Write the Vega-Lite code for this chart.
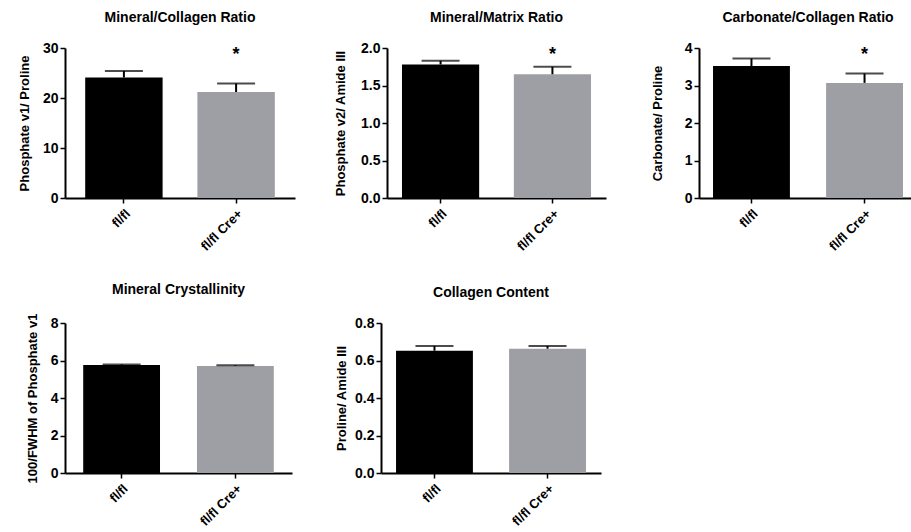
{
  "$schema": "https://vega.github.io/schema/vega-lite/v6.json",
  "background": "white",
  "padding": {"left": 18, "top": 11, "right": 0, "bottom": 0},
  "config": {
    "font": "Liberation Sans",
    "view": {"stroke": null},
    "title": {"fontSize": 14, "fontWeight": "bold", "color": "#000", "offset": 16, "anchor": "middle"},
    "axis": {
      "domainColor": "#000", "domainWidth": 2, "tickColor": "#000", "tickWidth": 1.5, "tickSize": 5,
      "labelColor": "#000", "labelFont": "Liberation Sans", "labelFontWeight": "bold", "labelOverlap": false,
      "titleColor": "#000", "titleFont": "Liberation Sans", "titleFontWeight": "bold", "grid": false
    },
    "axisY": {"labelFontSize": 14, "titleFontSize": 13, "titlePadding": 14, "labelPadding": 2},
    "axisX": {"labelFontSize": 13, "labelAngle": -45, "labelAlign": "right", "labelBaseline": "top", "labelPadding": 4, "title": null}
  },
  "datasets": {
    "d": [
      {"panel": "p1", "group": "fl/fl", "mean": 24.1, "upper": 25.4, "sig": ""},
      {"panel": "p1", "group": "fl/fl Cre+", "mean": 21.2, "upper": 22.9, "sig": "*"},
      {"panel": "p2", "group": "fl/fl", "mean": 1.78, "upper": 1.83, "sig": ""},
      {"panel": "p2", "group": "fl/fl Cre+", "mean": 1.65, "upper": 1.75, "sig": "*"},
      {"panel": "p3", "group": "fl/fl", "mean": 3.52, "upper": 3.72, "sig": ""},
      {"panel": "p3", "group": "fl/fl Cre+", "mean": 3.07, "upper": 3.32, "sig": "*"},
      {"panel": "p4", "group": "fl/fl", "mean": 5.76, "upper": 5.79, "sig": ""},
      {"panel": "p4", "group": "fl/fl Cre+", "mean": 5.71, "upper": 5.75, "sig": ""},
      {"panel": "p5", "group": "fl/fl", "mean": 0.652, "upper": 0.678, "sig": ""},
      {"panel": "p5", "group": "fl/fl Cre+", "mean": 0.663, "upper": 0.678, "sig": ""}
    ]
  },
  "columns": 1,
  "align": "none",
  "spacing": 29,
  "concat": [
    {
      "spacing": 39,
      "hconcat": [
        {
          "title": "Mineral/Collagen Ratio",
          "width": 230, "height": 150,
          "data": {"name": "d"},
          "transform": [{"filter": "datum.panel === 'p1'"}],
          "encoding": {
            "x": {"field": "group", "type": "nominal", "sort": null, "scale": {"paddingInner": 0.31, "paddingOuter": 0.18}, "axis": {"title": null}}
          },
          "layer": [
            {"mark": {"type": "bar"}, "encoding": {"y": {"field": "mean", "type": "quantitative", "scale": {"domain": [0, 30]}, "axis": {"values": [0, 10, 20, 30], "title": "Phosphate v1/ Proline", "titlePadding": 11}}, "color": {"field": "group", "type": "nominal", "scale": {"domain": ["fl/fl", "fl/fl Cre+"], "range": ["#000000", "#9e9fa4"]}, "legend": null}}},
            {"mark": {"type": "rule", "color": "#000", "strokeWidth": 2}, "encoding": {"y": {"field": "mean", "type": "quantitative", "axis": {"values": [0, 10, 20, 30], "title": "Phosphate v1/ Proline", "titlePadding": 11}}, "y2": {"field": "upper"}}},
            {"mark": {"type": "tick", "color": "#000", "size": 38, "thickness": 2}, "encoding": {"y": {"field": "upper", "type": "quantitative", "axis": {"values": [0, 10, 20, 30], "title": "Phosphate v1/ Proline", "titlePadding": 11}}}},
            {"mark": {"type": "text", "fontSize": 18, "fontWeight": "bold", "baseline": "middle", "dy": 7}, "encoding": {"y": {"datum": 30, "axis": {"values": [0, 10, 20, 30], "title": "Phosphate v1/ Proline", "titlePadding": 11}}, "text": {"field": "sig"}}}
          ]
        },
        {
          "spacing": 45,
          "hconcat": [
            {
              "title": "Mineral/Matrix Ratio",
              "width": 219, "height": 150,
              "data": {"name": "d"},
              "transform": [{"filter": "datum.panel === 'p2'"}],
              "encoding": {
                "x": {"field": "group", "type": "nominal", "sort": null, "scale": {"paddingInner": 0.31, "paddingOuter": 0.134}, "axis": {"title": null}}
              },
              "layer": [
                {"mark": {"type": "bar"}, "encoding": {"y": {"field": "mean", "type": "quantitative", "scale": {"domain": [0, 2]}, "axis": {"values": [0, 0.5, 1, 1.5, 2], "format": ".1f", "title": "Phosphate v2/ Amide III", "titlePadding": 13}}, "color": {"field": "group", "type": "nominal", "scale": {"domain": ["fl/fl", "fl/fl Cre+"], "range": ["#000000", "#9e9fa4"]}, "legend": null}}},
                {"mark": {"type": "rule", "color": "#000", "strokeWidth": 2}, "encoding": {"y": {"field": "mean", "type": "quantitative", "axis": {"values": [0, 0.5, 1, 1.5, 2], "format": ".1f", "title": "Phosphate v2/ Amide III", "titlePadding": 13}}, "y2": {"field": "upper"}}},
                {"mark": {"type": "tick", "color": "#000", "size": 38, "thickness": 2}, "encoding": {"y": {"field": "upper", "type": "quantitative", "axis": {"values": [0, 0.5, 1, 1.5, 2], "format": ".1f", "title": "Phosphate v2/ Amide III", "titlePadding": 13}}}},
                {"mark": {"type": "text", "fontSize": 18, "fontWeight": "bold", "baseline": "middle", "dy": 7}, "encoding": {"y": {"datum": 2, "axis": {"values": [0, 0.5, 1, 1.5, 2], "format": ".1f", "title": "Phosphate v2/ Amide III", "titlePadding": 13}}, "text": {"field": "sig"}}}
              ]
            },
            {
              "title": "Carbonate/Collagen Ratio",
              "width": 218, "height": 150,
              "data": {"name": "d"},
              "transform": [{"filter": "datum.panel === 'p3'"}],
              "encoding": {
                "x": {"field": "group", "type": "nominal", "sort": null, "scale": {"paddingInner": 0.32, "paddingOuter": 0.124}, "axis": {"title": null}}
              },
              "layer": [
                {"mark": {"type": "bar"}, "encoding": {"y": {"field": "mean", "type": "quantitative", "scale": {"domain": [0, 4]}, "axis": {"values": [0, 1, 2, 3, 4], "title": "Carbonate/  Proline", "titlePadding": 20}}, "color": {"field": "group", "type": "nominal", "scale": {"domain": ["fl/fl", "fl/fl Cre+"], "range": ["#000000", "#9e9fa4"]}, "legend": null}}},
                {"mark": {"type": "rule", "color": "#000", "strokeWidth": 2}, "encoding": {"y": {"field": "mean", "type": "quantitative", "axis": {"values": [0, 1, 2, 3, 4], "title": "Carbonate/  Proline", "titlePadding": 20}}, "y2": {"field": "upper"}}},
                {"mark": {"type": "tick", "color": "#000", "size": 38, "thickness": 2}, "encoding": {"y": {"field": "upper", "type": "quantitative", "axis": {"values": [0, 1, 2, 3, 4], "title": "Carbonate/  Proline", "titlePadding": 20}}}},
                {"mark": {"type": "text", "fontSize": 18, "fontWeight": "bold", "baseline": "middle", "dy": 7}, "encoding": {"y": {"datum": 4, "axis": {"values": [0, 1, 2, 3, 4], "title": "Carbonate/  Proline", "titlePadding": 20}}, "text": {"field": "sig"}}}
              ]
            }
          ]
        }
      ]
    },
    {
      "spacing": 43,
      "hconcat": [
        {
          "title": "Mineral Crystallinity",
          "width": 227, "height": 150,
          "data": {"name": "d"},
          "transform": [{"filter": "datum.panel === 'p4'"}],
          "encoding": {
            "x": {"field": "group", "type": "nominal", "sort": null, "scale": {"paddingInner": 0.325, "paddingOuter": 0.16}, "axis": {"title": null}}
          },
          "layer": [
            {"mark": {"type": "bar"}, "encoding": {"y": {"field": "mean", "type": "quantitative", "scale": {"domain": [0, 8]}, "axis": {"values": [0, 2, 4, 6, 8], "title": "100/FWHM of Phosphate v1", "titlePadding": 11}}, "color": {"field": "group", "type": "nominal", "scale": {"domain": ["fl/fl", "fl/fl Cre+"], "range": ["#000000", "#9e9fa4"]}, "legend": null}}},
            {"mark": {"type": "rule", "color": "#000", "strokeWidth": 2}, "encoding": {"y": {"field": "mean", "type": "quantitative", "axis": {"values": [0, 2, 4, 6, 8], "title": "100/FWHM of Phosphate v1", "titlePadding": 11}}, "y2": {"field": "upper"}}},
            {"mark": {"type": "tick", "color": "#000", "size": 38, "thickness": 2}, "encoding": {"y": {"field": "upper", "type": "quantitative", "axis": {"values": [0, 2, 4, 6, 8], "title": "100/FWHM of Phosphate v1", "titlePadding": 11}}}}
          ]
        },
        {
          "title": "Collagen Content",
          "width": 220, "height": 150,
          "data": {"name": "d"},
          "transform": [{"filter": "datum.panel === 'p5'"}],
          "encoding": {
            "x": {"field": "group", "type": "nominal", "sort": null, "scale": {"paddingInner": 0.32, "paddingOuter": 0.133}, "axis": {"title": null}}
          },
          "layer": [
            {"mark": {"type": "bar"}, "encoding": {"y": {"field": "mean", "type": "quantitative", "scale": {"domain": [0, 0.8]}, "axis": {"values": [0, 0.2, 0.4, 0.6, 0.8], "format": ".1f", "title": "Proline/ Amide III", "titlePadding": 6}}, "color": {"field": "group", "type": "nominal", "scale": {"domain": ["fl/fl", "fl/fl Cre+"], "range": ["#000000", "#9e9fa4"]}, "legend": null}}},
            {"mark": {"type": "rule", "color": "#000", "strokeWidth": 2}, "encoding": {"y": {"field": "mean", "type": "quantitative", "axis": {"values": [0, 0.2, 0.4, 0.6, 0.8], "format": ".1f", "title": "Proline/ Amide III", "titlePadding": 6}}, "y2": {"field": "upper"}}},
            {"mark": {"type": "tick", "color": "#000", "size": 38, "thickness": 2}, "encoding": {"y": {"field": "upper", "type": "quantitative", "axis": {"values": [0, 0.2, 0.4, 0.6, 0.8], "format": ".1f", "title": "Proline/ Amide III", "titlePadding": 6}}}}
          ]
        }
      ]
    }
  ]
}
